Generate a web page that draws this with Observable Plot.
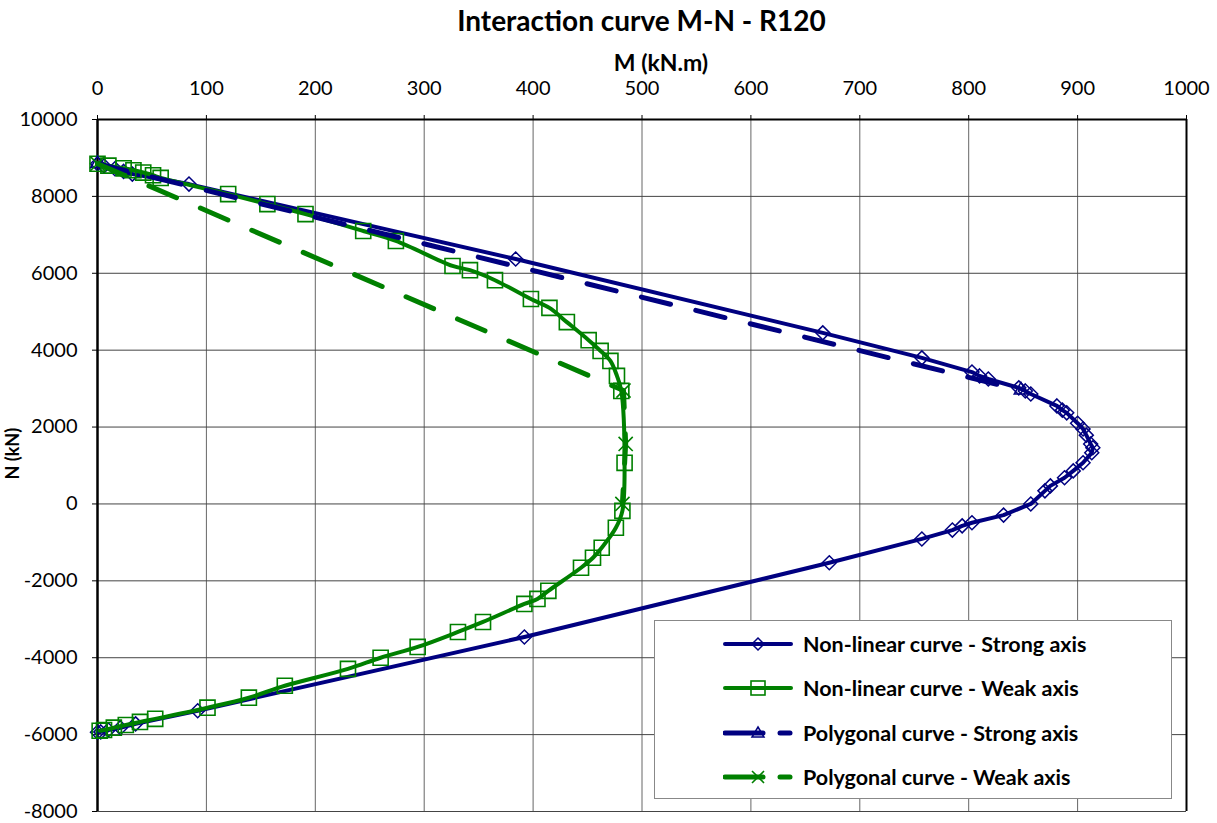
<!DOCTYPE html>
<html>
<head>
<meta charset="utf-8">
<script src="https://cdn.jsdelivr.net/npm/d3@7"></script>
<script src="https://cdn.jsdelivr.net/npm/@observablehq/plot@0.6"></script>
<style>
  html, body { margin: 0; padding: 0; background: #fff; }
  body { width: 1217px; height: 823px; position: relative; font-family: Lato, "Open Sans", sans-serif; }
  #title { height: 40px; box-sizing: border-box; padding-left: 97px; padding-right: 31px; text-align: center;
           font-size: 28px; font-weight: bold; line-height: 40px; color: #000; }
  #legend { position: absolute; left: 654px; top: 620px; width: 518px; height: 179px; box-sizing: border-box;
            background: #fff; border: 1px solid #888; }
  .row { position: absolute; left: 68px; height: 30px; display: flex; align-items: center; font-size: 21.5px; font-weight: bold; color: #000; }
  .row svg { margin-right: 8px; }
</style>
</head>
<body>
<div id="title">Interaction curve M-N - R120</div>
<div id="chart"></div>
<div id="legend"></div>
<script>
// ---- data (M in kN.m, N in kN) ----
const seriesNames = [
  "Non-linear curve - Strong axis",
  "Non-linear curve - Weak axis",
  "Polygonal curve - Strong axis",
  "Polygonal curve - Weak axis"
];
const xTicks = [0, 100, 200, 300, 400, 500, 600, 700, 800, 900, 1000];
const yTicks = [-8000, -6000, -4000, -2000, 0, 2000, 4000, 6000, 8000, 10000];

const strongM = [0, 6, 16, 24, 32, 84, 384, 666, 757, 803, 810, 818, 846, 852, 857, 881, 886, 890, 900, 905, 908, 912, 914, 913, 905, 896, 888, 875, 870, 857, 832, 803, 794, 785, 757, 672, 392, 92, 35, 21, 10, 3, 0];
const strongN = [8850, 8790, 8720, 8650, 8580, 8320, 6370, 4450, 3800, 3430, 3330, 3250, 3020, 2940, 2860, 2550, 2440, 2370, 2100, 1950, 1790, 1560, 1460, 1330, 1070, 860, 680, 470, 340, 0, -290, -490, -570, -680, -910, -1530, -3460, -5380, -5720, -5820, -5880, -5930, -5940];

const weakM = [0, 10, 24, 33, 42, 51, 58, 120, 156, 191, 244, 274, 326, 342, 365, 398, 415, 431, 451, 462, 471, 477, 481, 484, 482, 476, 463, 455, 444, 414, 404, 392, 354, 331, 294, 260, 230, 172, 139, 101, 53, 39, 26, 15, 6, 2];
const weakN = [8850, 8800, 8730, 8680, 8620, 8550, 8480, 8060, 7800, 7540, 7100, 6840, 6190, 6080, 5820, 5330, 5100, 4730, 4260, 3980, 3720, 3330, 2940, 1070, -180, -620, -1140, -1400, -1660, -2260, -2470, -2600, -3070, -3330, -3720, -4000, -4290, -4730, -5040, -5300, -5590, -5670, -5750, -5820, -5880, -5900];

const polyStrongM = [0, 848];
const polyStrongN = [8850, 2960];

const polyWeakM = [0, 483, 485, 482];
const polyWeakN = [8850, 2950, 1560, 0];

const navy = "#000080";
const green = "#008000";

const toRows = (ms, ns) => ms.map((m, i) => ({M: m, N: ns[i]}));
const strong = toRows(strongM, strongN);
const weak = toRows(weakM, weakN);
const polyStrong = toRows(polyStrongM, polyStrongN);
const polyWeak = toRows(polyWeakM, polyWeakN);

const dash = "30,26";

const chart = Plot.plot({
  width: 1217,
  height: 783,
  marginTop: 79,
  marginBottom: 12,
  marginLeft: 97,
  marginRight: 31,
  style: {fontFamily: "Lato, 'Open Sans', sans-serif", fontSize: "20px", color: "#000", background: "#fff"},
  x: {domain: [0, 1000]},
  y: {domain: [-8000, 10000]},
  marks: [
    Plot.gridX(xTicks, {stroke: "#666", strokeOpacity: 1, strokeWidth: 1}),
    Plot.gridY(yTicks, {stroke: "#444", strokeOpacity: 1, strokeWidth: 1}),
    Plot.axisX(xTicks, {anchor: "top", tickSize: 5, tickPadding: 20, label: null, fontSize: 20, tickFormat: d => String(d)}),
    Plot.axisY(yTicks, {anchor: "left", tickSize: 5, tickPadding: 15, label: null, fontSize: 20, tickFormat: d => String(d)}),
    Plot.ruleX([1000], {stroke: "#000", strokeWidth: 2}),
    Plot.ruleY([10000], {stroke: "#000", strokeWidth: 2}),
    Plot.ruleX([0], {stroke: "#000", strokeWidth: 2.5}),
    Plot.text(["M (kN.m)"], {frameAnchor: "top", lineAnchor: "middle", dy: -56, dx: 19, fontSize: 23, fontWeight: "bold"}),
    Plot.text(["N (kN)"], {frameAnchor: "left", dx: -84, dy: 14, rotate: -90, fontSize: 18, fontWeight: "bold"}),
    // Non-linear strong
    Plot.line(strong, {x: "M", y: "N", stroke: navy, strokeWidth: 4}),
    Plot.dot(strong, {x: "M", y: "N", symbol: "diamond2", r: 6.3, stroke: navy, strokeWidth: 1.5, fill: "none"}),
    // Non-linear weak
    Plot.line(weak, {x: "M", y: "N", stroke: green, strokeWidth: 4, curve: "catmull-rom"}),
    Plot.dot(weak, {x: "M", y: "N", symbol: "square", r: 8.5, stroke: green, strokeWidth: 1.6, fill: "none"}),
    // Polygonal strong
    Plot.line(polyStrong, {x: "M", y: "N", stroke: navy, strokeWidth: 5, strokeDasharray: dash, strokeLinecap: "round"}),
    Plot.dot(polyStrong, {x: "M", y: "N", symbol: "triangle", r: 5, stroke: navy, strokeWidth: 1.5, fill: "none"}),
    // Polygonal weak
    Plot.line(polyWeak, {x: "M", y: "N", stroke: green, strokeWidth: 5, strokeDasharray: dash, strokeLinecap: "round"}),
    Plot.dot(polyWeak, {x: "M", y: "N", symbol: "times", r: 6.5, stroke: green, strokeWidth: 1.6})
  ]
});
document.getElementById("chart").appendChild(chart);

// ---- legend ----
const legend = document.getElementById("legend");
const rowTops = [8, 52, 97, 141];
const samples = [
  `<line x1="2" y1="15" x2="68" y2="15" stroke="${navy}" stroke-width="4" stroke-linecap="round"/>
   <path d="M35,9 L41,15 L35,21 L29,15 Z" fill="none" stroke="${navy}" stroke-width="1.5"/>`,
  `<line x1="2" y1="15" x2="68" y2="15" stroke="${green}" stroke-width="4" stroke-linecap="round"/>
   <rect x="28" y="8" width="14" height="14" fill="none" stroke="${green}" stroke-width="1.6"/>`,
  `<line x1="2" y1="15" x2="40" y2="15" stroke="${navy}" stroke-width="5" stroke-linecap="round"/>
   <line x1="57" y1="15" x2="67" y2="15" stroke="${navy}" stroke-width="5" stroke-linecap="round"/>
   <path d="M35,9 L41,19 L29,19 Z" fill="none" stroke="${navy}" stroke-width="1.5"/>`,
  `<line x1="2" y1="15" x2="40" y2="15" stroke="${green}" stroke-width="5" stroke-linecap="round"/>
   <line x1="57" y1="15" x2="67" y2="15" stroke="${green}" stroke-width="5" stroke-linecap="round"/>
   <path d="M29,9 L41,21 M41,9 L29,21" fill="none" stroke="${green}" stroke-width="1.6"/>`
];
seriesNames.forEach((name, i) => {
  const row = document.createElement("div");
  row.className = "row";
  row.style.top = rowTops[i] + "px";
  row.innerHTML = `<svg width="72" height="30">${samples[i]}</svg><span>${name}</span>`;
  legend.appendChild(row);
});
</script>
</body>
</html>
